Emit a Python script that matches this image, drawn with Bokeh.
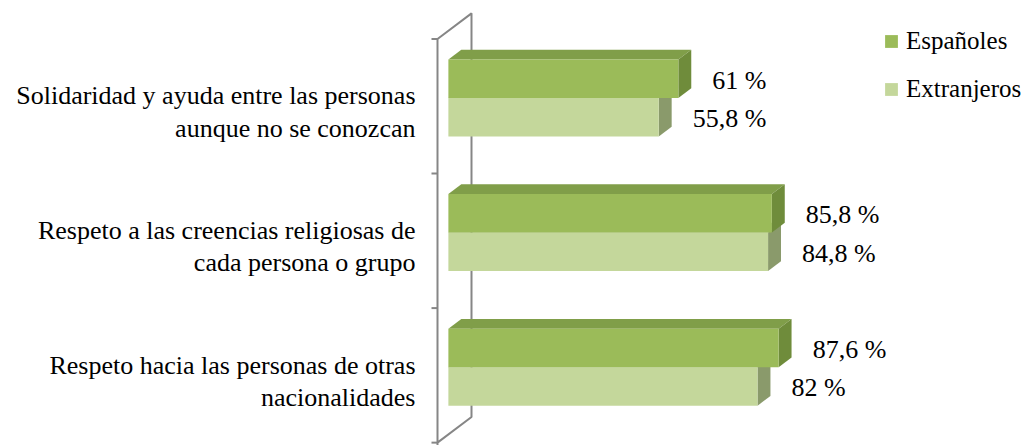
from bokeh.plotting import figure
from bokeh.models import Range1d, Legend, LegendItem
from bokeh.core.properties import value
from bokeh.embed import file_html
from bokeh.resources import INLINE

# ---------------- data ----------------
categories = [
    "Solidaridad y ayuda entre las personas\naunque no se conozcan",
    "Respeto a las creencias religiosas de\ncada persona o grupo",
    "Respeto hacia las personas de otras\nnacionalidades",
]
espanoles = [61.0, 85.8, 87.6]
extranjeros = [55.8, 84.8, 82.0]
series_names = ["Españoles", "Extranjeros"]

# ---------------- styles / geometry ----------------
W, H = 1028, 445
PX_X = 3.77          # pixels per percent
PX_Y = 136.3         # pixels per category
X0_PX = 437          # screen x of zero (front plane)
TOP_PX = 39          # screen y of top of category area (front plane)
DEPTH_PX_X, DEPTH_PX_Y = 34, 26   # full depth of the 3D wall in px
DX = DEPTH_PX_X / PX_X
DY = DEPTH_PX_Y / PX_Y
Z0, Z1 = 0.32, 0.70  # bar depth
BAR_H = 39 / PX_Y
FONT = "Liberation Serif"
AXIS_COL = "#868686"

col_front = {"Españoles": "#9BBB59", "Extranjeros": "#C4D79B"}
col_top = {"Españoles": "#809E49", "Extranjeros": "#A3B57A"}
col_side = {"Españoles": "#6F8C3B", "Extranjeros": "#8A9A6B"}

n = len(categories)
p = figure(width=W, height=H, output_backend="svg", toolbar_location=None,
           x_range=Range1d(-X0_PX / PX_X, (W - X0_PX) / PX_X),
           y_range=Range1d(-(TOP_PX + n * PX_Y - H) / PX_Y, n + TOP_PX / PX_Y),
           min_border=0, x_axis_type=None, y_axis_type=None)
p.grid.visible = False
p.outline_line_color = None
p.background_fill_color = "white"
p.border_fill_color = "white"


def proj(x, y, z):
    return x + z * DX, y + z * DY


# 3D wall (front line, back line, diagonals)
path = [(0, -0.2, 0), (0, n, 0), (0, n, 1), (0, 0, 1), (0, 0, 0), (0, -0.2, 0)]
wx = [proj(*q)[0] for q in path]
wy = [proj(*q)[1] for q in path]
p.line(wx, wy, line_color=AXIS_COL, line_width=2)
# ticks
tick_len = 6 / PX_X
p.segment(x0=[0] * (n + 1), y0=list(range(n + 1)), x1=[-tick_len] * (n + 1),
          y1=list(range(n + 1)), line_color=AXIS_COL, line_width=2)

front_renderers = {}
# draw lower series first (Extranjeros), then Españoles on top
for name, vals, sign in [("Extranjeros", extranjeros, -1), ("Españoles", espanoles, 1)]:
    fl, fr, fb, ft = [], [], [], []
    tops_x, tops_y, sides_x, sides_y = [], [], [], []
    for k, v in enumerate(vals):
        c = n - k - 0.5
        yb, yt = (c, c + BAR_H) if sign > 0 else (c - BAR_H, c)
        x_a, y_a = proj(0, yb, Z0)
        x_b, y_b = proj(v, yt, Z0)
        fl.append(x_a); fr.append(x_b); fb.append(y_a); ft.append(y_b)
        pts = [proj(0, yt, Z0), proj(v, yt, Z0), proj(v, yt, Z1), proj(0, yt, Z1)]
        tops_x.append([q[0] for q in pts]); tops_y.append([q[1] for q in pts])
        pts = [proj(v, yb, Z0), proj(v, yt, Z0), proj(v, yt, Z1), proj(v, yb, Z1)]
        sides_x.append([q[0] for q in pts]); sides_y.append([q[1] for q in pts])
    p.patches(tops_x, tops_y, fill_color=col_top[name], line_color=None)
    p.patches(sides_x, sides_y, fill_color=col_side[name], line_color=None)
    front_renderers[name] = p.quad(left=fl, right=fr, bottom=fb, top=ft,
                                   fill_color=col_front[name], line_color=None)


def fmt(v):
    return f"{v:g}".replace(".", ",") + " %"


# value labels
gap = 34 / PX_X
lx, ly, lt = [], [], []
for vals, sign in [(espanoles, 1), (extranjeros, -1)]:
    for k, v in enumerate(vals):
        c = n - k - 0.5
        yc = c + sign * BAR_H / 2
        x_e, y_e = proj(v, yc, Z0)
        lx.append(x_e + gap); ly.append(y_e - 1.5 / PX_Y); lt.append(fmt(v))
p.text(x=lx, y=ly, text=lt, text_font=value(FONT), text_font_size="26px",
       text_align="left", text_baseline="middle", text_color="black")

# category labels
cx = [-22 / PX_X] * n
cy = [n - k - 0.5 - 6 / PX_Y for k in range(n)]
p.text(x=cx, y=cy, text=categories, text_font=value(FONT), text_font_size="26px",
       text_align="right", text_baseline="middle", text_color="black",
       text_line_height=1.12)

legend = Legend(items=[LegendItem(label=s, renderers=[front_renderers[s]]) for s in series_names],
                location=(883, 342), glyph_width=16, glyph_height=16, label_standoff=7,
                spacing=20, padding=0, margin=0, border_line_color=None,
                background_fill_alpha=0, label_text_font=FONT,
                label_text_font_size="25px", label_text_color="black")
p.add_layout(legend, "center")

open("out.html", "w").write(file_html(p, INLINE))
